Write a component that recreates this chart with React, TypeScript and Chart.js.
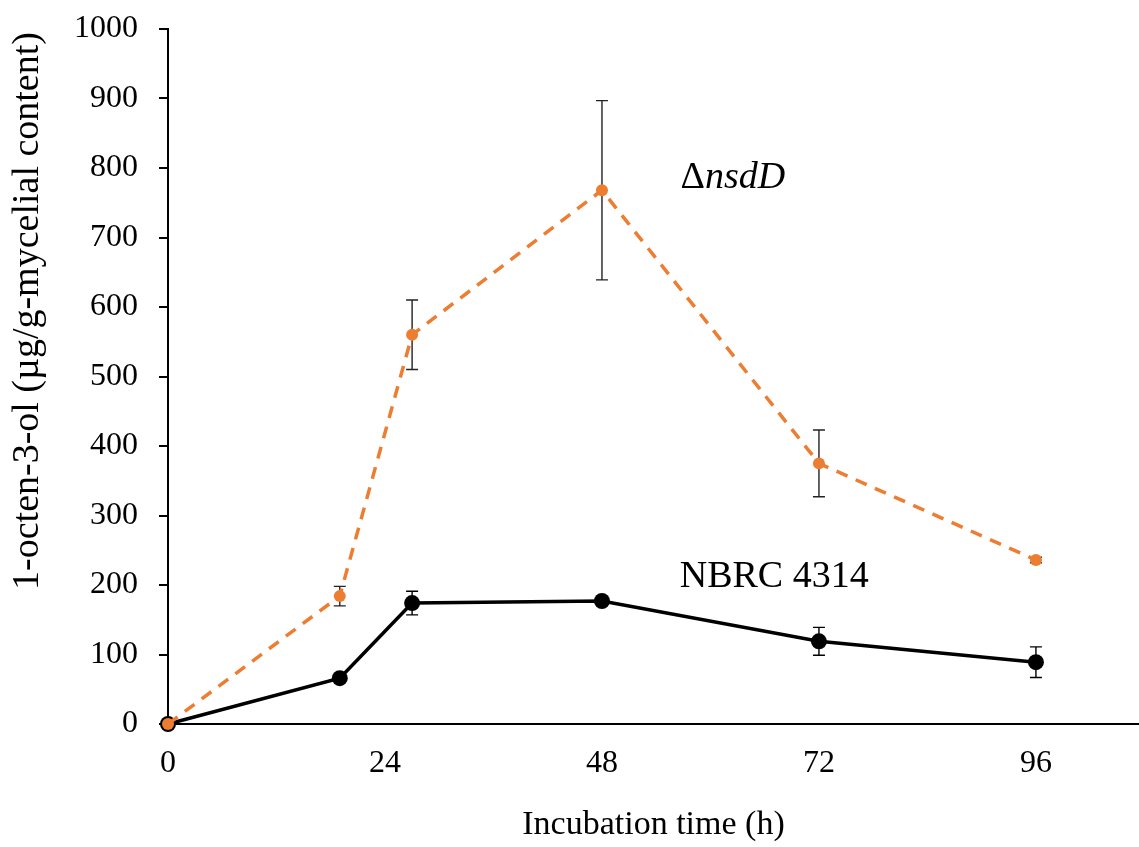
import React, { useEffect, useRef } from "react";
import { Chart, registerables } from "chart.js";

Chart.register(...registerables);

const hours = [0, 19, 27, 48, 72, 96];
const nsdDValues = [0, 184, 560, 768, 375, 236];
const nsdDErrors = [0, 14, 50, 129, 48, 4];
const nbrcValues = [0, 66, 174, 177, 119, 89];
const nbrcErrors = [0, 4, 17, 5, 20, 22];
const xTicks = [0, 24, 48, 72, 96];
const yTicks = [0, 100, 200, 300, 400, 500, 600, 700, 800, 900, 1000];
const labelNsdD = { x: 56.7, y: 771 };
const labelNbrc = { x: 56.6, y: 197 };
const yTitle = "1-octen-3-ol (µg/g-mycelial content)";
const xTitle = "Incubation time (h)";

const FONT = "'Liberation Serif', 'Times New Roman', serif";

const errorBarPlugin = {
  id: "errorBars",
  beforeDatasetsDraw(chart: any) {
    const ctx = chart.ctx;
    const xs = chart.scales.x;
    const ys = chart.scales.y;
    const sets = [
      { vals: nbrcValues, errs: nbrcErrors, color: "#000000" },
      { vals: nsdDValues, errs: nsdDErrors, color: "#222222" },
    ];
    ctx.save();
    ctx.lineWidth = 1.4;
    sets.forEach((s) => {
      ctx.strokeStyle = s.color;
      hours.forEach((h, i) => {
        const e = s.errs[i];
        if (!e) return;
        const px = xs.getPixelForValue(h);
        const top = ys.getPixelForValue(s.vals[i] + e);
        const bot = ys.getPixelForValue(s.vals[i] - e);
        ctx.beginPath();
        ctx.moveTo(px, top);
        ctx.lineTo(px, bot);
        ctx.moveTo(px - 6, top);
        ctx.lineTo(px + 6, top);
        ctx.moveTo(px - 6, bot);
        ctx.lineTo(px + 6, bot);
        ctx.stroke();
      });
    });
    ctx.restore();
  },
  afterDatasetsDraw(chart: any) {
    const ctx = chart.ctx;
    const xs = chart.scales.x;
    const ys = chart.scales.y;
    ctx.save();
    ctx.fillStyle = "#000";
    ctx.textBaseline = "alphabetic";
    ctx.textAlign = "left";
    let x = xs.getPixelForValue(labelNsdD.x);
    const y1 = ys.getPixelForValue(labelNsdD.y);
    ctx.font = `38px ${FONT}`;
    ctx.fillText("Δ", x, y1);
    x += ctx.measureText("Δ").width;
    ctx.font = `italic 38px ${FONT}`;
    ctx.fillText("nsdD", x, y1);
    ctx.font = `38px ${FONT}`;
    ctx.fillText("NBRC 4314", xs.getPixelForValue(labelNbrc.x), ys.getPixelForValue(labelNbrc.y));
    // y axis title
    ctx.translate(28, 311);
    ctx.rotate(-Math.PI / 2);
    ctx.textAlign = "center";
    ctx.textBaseline = "middle";
    ctx.font = `38px ${FONT}`;
    ctx.fillText(yTitle, 0, 0);
    ctx.restore();
  },
};

export default function App() {
  const ref = useRef<HTMLCanvasElement | null>(null);
  useEffect(() => {
    document.body.style.margin = "0";
    const canvas = ref.current;
    if (!canvas) return;
    const chart = new Chart(canvas, {
      type: "line",
      data: {
        datasets: [
          {
            label: "ΔnsdD",
            data: hours.map((h, i) => ({ x: h, y: nsdDValues[i] })),
            borderColor: "#ED7D31",
            backgroundColor: "#ED7D31",
            borderWidth: 3.5,
            borderDash: [12, 9],
            pointRadius: 6,
            pointBorderWidth: 0,
            pointBackgroundColor: "#ED7D31",
            clip: false,
            order: 0,
          },
          {
            label: "NBRC 4314",
            data: hours.map((h, i) => ({ x: h, y: nbrcValues[i] })),
            borderColor: "#000000",
            backgroundColor: "#000000",
            borderWidth: 3.5,
            pointRadius: 8,
            pointBorderWidth: 0,
            pointBackgroundColor: "#000000",
            clip: false,
            order: 1,
          },
        ],
      },
      options: {
        animation: false,
        responsive: false,
        layout: { autoPadding: false, padding: { top: 29, right: 0, left: 0, bottom: 0 } },
        plugins: { legend: { display: false }, tooltip: { enabled: false } },
        scales: {
          x: {
            type: "linear",
            min: 0,
            max: 107.4,
            afterBuildTicks: (s: any) => {
              s.ticks = xTicks.map((v) => ({ value: v }));
            },
            afterFit: (s: any) => {
              s.height = 123;
              s.paddingLeft = 0;
              s.paddingRight = 0;
            },
            grid: { drawOnChartArea: false, drawTicks: false },
            border: { display: true, color: "#000", width: 2 },
            ticks: {
              color: "#000",
              font: { family: FONT, size: 32 },
              padding: 20,
              maxRotation: 0,
              callback: (v: any) => String(v),
            },
            title: {
              display: true,
              text: xTitle,
              color: "#000",
              font: { family: FONT, size: 34 },
              padding: { top: 0, bottom: 2 },
            },
          },
          y: {
            min: 0,
            max: 1000,
            afterBuildTicks: (s: any) => {
              s.ticks = yTicks.map((v) => ({ value: v }));
            },
            afterFit: (s: any) => {
              s.width = 168;
              s.paddingTop = 0;
              s.paddingBottom = 0;
            },
            grid: { drawOnChartArea: false, drawTicks: true, tickLength: 9, color: "#000", lineWidth: 2 },
            border: { display: true, color: "#000", width: 2 },
            ticks: {
              color: "#000",
              font: { family: FONT, size: 32 },
              padding: 21,
              callback: (v: any) => String(v),
            },
            title: { display: false },
          },
        },
      },
      plugins: [errorBarPlugin],
    });
    return () => chart.destroy();
  }, []);
  return <canvas ref={ref} width={1139} height={847} style={{ display: "block" }} />;
}
